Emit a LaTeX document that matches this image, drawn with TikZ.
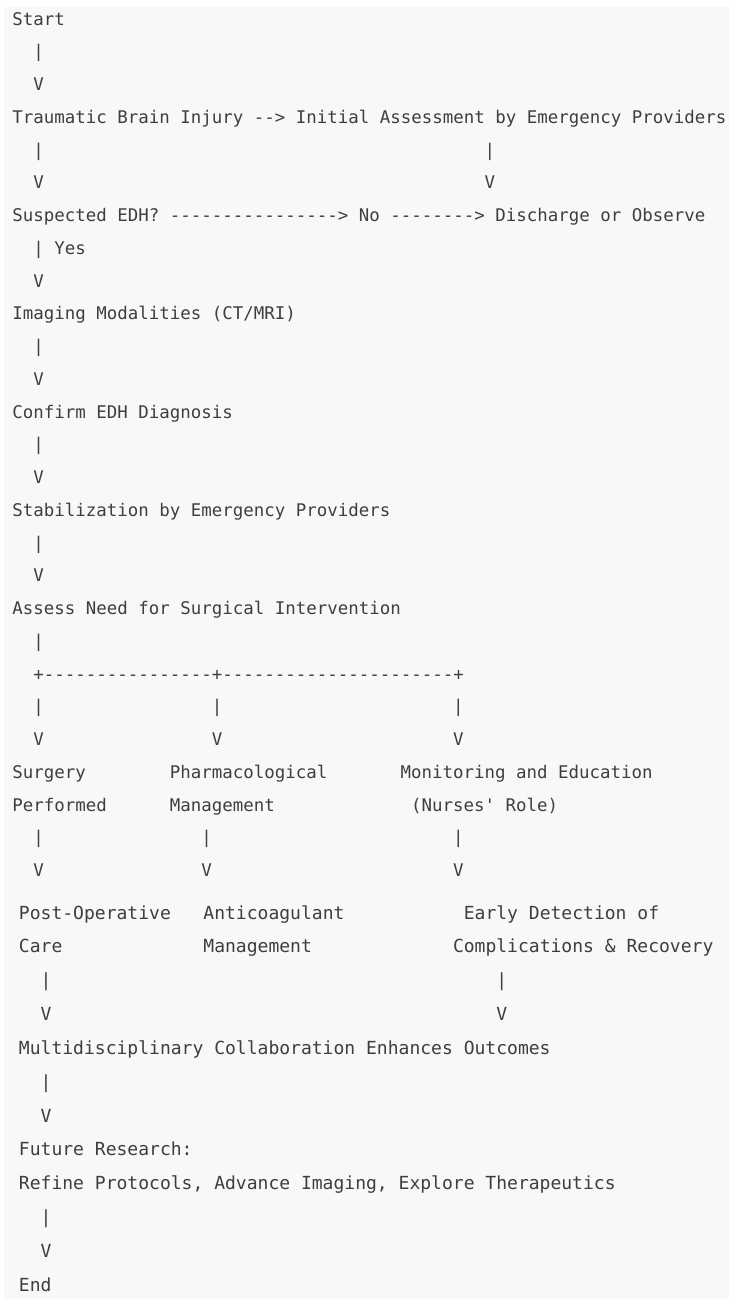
\documentclass[tikz,border=0pt]{standalone}
\usepackage{fontspec}
\newfontfamily\asciimono[Ligatures=TeXOff]{DejaVu Sans Mono}
\definecolor{pagegray}{HTML}{F8F8F8}
\definecolor{inkgray}{HTML}{3E3E3E}
\tikzset{
  upt/.style={anchor=base west, inner sep=0pt, outer sep=0pt, text=inkgray,
    font=\asciimono\frenchspacing\fontsize{17.44pt}{20pt}\selectfont},
  lot/.style={anchor=base west, inner sep=0pt, outer sep=0pt, text=inkgray,
    font=\asciimono\frenchspacing\fontsize{18.02pt}{21pt}\selectfont}
}
\newcommand\UpT[4]{\node[upt] (#1) at ({12.5+#2*10.49},{25+(#3-1)*32.75}) {#4};}
\newcommand\LoT[4]{\node[lot] (#1) at ({19+#2*10.85},{919+(#3-1)*33.85}) {#4};}
\begin{document}
\begin{tikzpicture}[x=1pt,y=-1pt]
\useasboundingbox (0,0) rectangle (729,1299);
\fill[white] (0,0) rectangle (729,1299);
\fill[pagegray] (4,7) rectangle (729,1299);
% upper block
\UpT{start}{0}{1}{Start}
\UpT{p1}{2}{2}{|}
\UpT{v1}{2}{3}{V}
\UpT{tbi}{0}{4}{Traumatic Brain Injury --> Initial Assessment by Emergency Providers}
\UpT{p2a}{2}{5}{|}
\UpT{p2b}{45}{5}{|}
\UpT{v2a}{2}{6}{V}
\UpT{v2b}{45}{6}{V}
\UpT{susp}{0}{7}{Suspected EDH?}
\UpT{noarr}{15}{7}{----------------> No --------> Discharge or Observe}
\UpT{yes}{2}{8}{| Yes}
\UpT{v3}{2}{9}{V}
\UpT{img}{0}{10}{Imaging Modalities (CT/MRI)}
\UpT{p4}{2}{11}{|}
\UpT{v4}{2}{12}{V}
\UpT{conf}{0}{13}{Confirm EDH Diagnosis}
\UpT{p5}{2}{14}{|}
\UpT{v5}{2}{15}{V}
\UpT{stab}{0}{16}{Stabilization by Emergency Providers}
\UpT{p6}{2}{17}{|}
\UpT{v6}{2}{18}{V}
\UpT{assess}{0}{19}{Assess Need for Surgical Intervention}
\UpT{p7}{2}{20}{|}
\UpT{split}{2}{21}{+----------------+----------------------+}
\UpT{p8a}{2}{22}{|}
\UpT{p8b}{19}{22}{|}
\UpT{p8c}{42}{22}{|}
\UpT{v8a}{2}{23}{V}
\UpT{v8b}{19}{23}{V}
\UpT{v8c}{42}{23}{V}
\UpT{surg1}{0}{24}{Surgery}
\UpT{pharm1}{15}{24}{Pharmacological}
\UpT{mon1}{37}{24}{Monitoring and Education}
\UpT{surg2}{0}{25}{Performed}
\UpT{pharm2}{15}{25}{Management}
\UpT{mon2}{38}{25}{(Nurses' Role)}
\UpT{p9a}{2}{26}{|}
\UpT{p9b}{18}{26}{|}
\UpT{p9c}{42}{26}{|}
\UpT{v9a}{2}{27}{V}
\UpT{v9b}{18}{27}{V}
\UpT{v9c}{42}{27}{V}
% lower block
\LoT{post1}{0}{1}{Post-Operative}
\LoT{anti1}{17}{1}{Anticoagulant}
\LoT{early1}{41}{1}{Early Detection of}
\LoT{post2}{0}{2}{Care}
\LoT{anti2}{17}{2}{Management}
\LoT{early2}{40}{2}{Complications \& Recovery}
\LoT{p10a}{2}{3}{|}
\LoT{p10b}{44}{3}{|}
\LoT{v10a}{2}{4}{V}
\LoT{v10b}{44}{4}{V}
\LoT{multi}{0}{5}{Multidisciplinary Collaboration Enhances Outcomes}
\LoT{p11}{2}{6}{|}
\LoT{v11}{2}{7}{V}
\LoT{fut1}{0}{8}{Future Research:}
\LoT{fut2}{0}{9}{Refine Protocols, Advance Imaging, Explore Therapeutics}
\LoT{p12}{2}{10}{|}
\LoT{v12}{2}{11}{V}
\LoT{endn}{0}{12}{End}
\end{tikzpicture}
\end{document}
